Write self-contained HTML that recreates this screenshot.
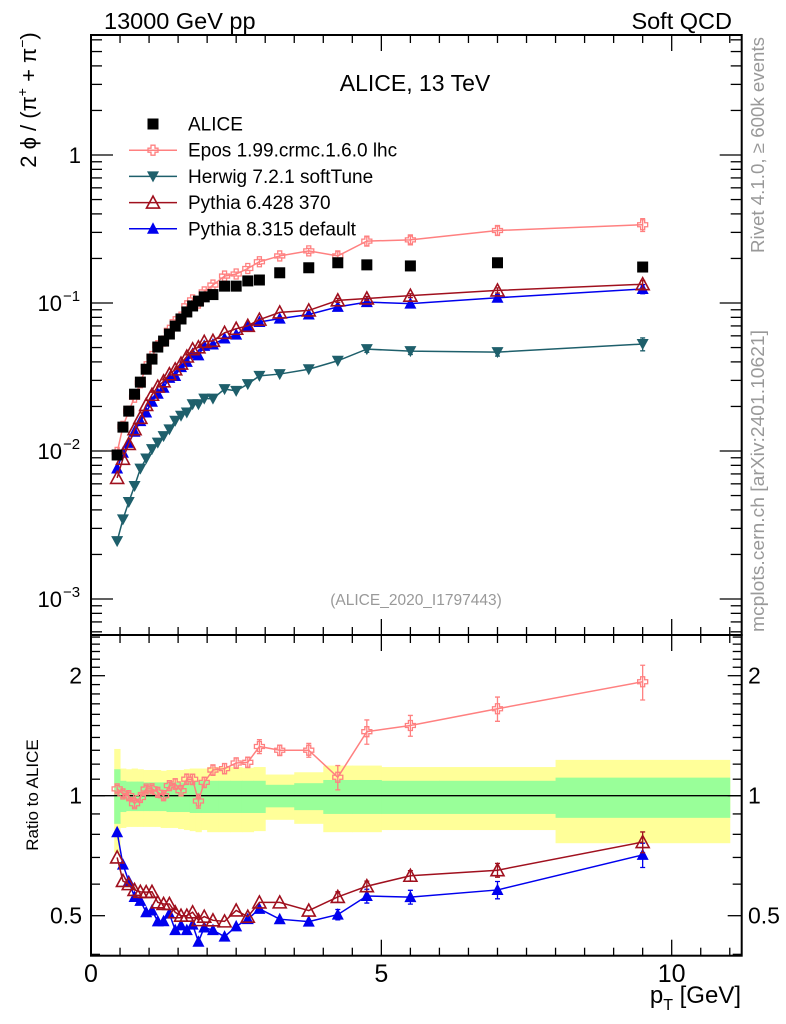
<!DOCTYPE html>
<html><head><meta charset="utf-8"><style>
html,body{margin:0;padding:0;background:#fff;overflow:hidden;width:786px;height:1024px}
svg{display:block;font-family:"Liberation Sans",Arial,sans-serif;overflow:hidden}
</style></head><body>
<svg id="c" width="786" height="1024" viewBox="0 0 786 1024" xmlns="http://www.w3.org/2000/svg">
<defs>
<clipPath id="cm"><rect x="91" y="35" width="651" height="600"/></clipPath>
<clipPath id="cr"><rect x="91" y="635" width="651" height="321"/></clipPath>
</defs>
<g id="bands" clip-path="url(#cr)"></g>
<line x1="91" y1="795.7" x2="741.7" y2="795.7" stroke="#000" stroke-width="1.3"/>
<g id="mainSeries" clip-path="url(#cm)"></g>
<g id="ratioSeries" clip-path="url(#cr)"></g>
<g id="axes"></g>
<rect x="91" y="35" width="650.7" height="600" fill="none" stroke="#000" stroke-width="2"/>
<rect x="91" y="635" width="650.7" height="320.7" fill="none" stroke="#000" stroke-width="2"/>
<text x="104" y="29" font-size="23.5">13000 GeV pp</text>
<text x="732" y="29" font-size="23.5" text-anchor="end">Soft QCD</text>
<text x="415" y="91" font-size="23" text-anchor="middle">ALICE, 13 TeV</text>
<text x="416" y="605" font-size="15.5" fill="#999" text-anchor="middle">(ALICE_2020_I1797443)</text>
<text transform="translate(764,253) rotate(-90)" font-size="18" fill="#999" textLength="216" lengthAdjust="spacingAndGlyphs">Rivet 4.1.0, ≥ 600k events</text>
<text transform="translate(764,632) rotate(-90)" font-size="18" fill="#999" textLength="302" lengthAdjust="spacingAndGlyphs">mcplots.cern.ch [arXiv:2401.10621]</text>
<text transform="translate(36,100) rotate(-90)" font-size="22" text-anchor="middle">2 ϕ / (π<tspan dy="-9" font-size="14">+</tspan><tspan dy="9"> + π</tspan><tspan dy="-9" font-size="14">−</tspan><tspan dy="9">)</tspan></text>
<text transform="translate(38,795) rotate(-90)" font-size="17" text-anchor="middle">Ratio to ALICE</text>
<text x="741" y="1003" font-size="24" text-anchor="end">p<tspan dy="7" font-size="16">T</tspan><tspan dy="-7"> [GeV]</tspan></text>
<g id="legend"></g>
</svg>
<script>
// ---- data ----
const ptValues = [0.45,0.55,0.65,0.75,0.85,0.95,1.05,1.15,1.25,1.35,1.45,1.55,1.65,1.75,1.85,1.95,2.1,2.3,2.5,2.7,2.9,3.25,3.75,4.25,4.75,5.5,7,9.5];
const binLow = [0.4,0.5,0.6,0.7,0.8,0.9,1.0,1.1,1.2,1.3,1.4,1.5,1.6,1.7,1.8,1.9,2.0,2.2,2.4,2.6,2.8,3.0,3.5,4.0,4.5,5.0,6.0,8.0];
const binHigh = [0.5,0.6,0.7,0.8,0.9,1.0,1.1,1.2,1.3,1.4,1.5,1.6,1.7,1.8,1.9,2.0,2.2,2.4,2.6,2.8,3.0,3.5,4.0,4.5,5.0,6.0,8.0,11.0];
const aliceValues = [0.0094,0.0145,0.0186,0.0242,0.0292,0.0357,0.0418,0.0504,0.0553,0.0617,0.0698,0.078,0.087,0.0955,0.103,0.11,0.114,0.130,0.130,0.141,0.143,0.160,0.173,0.187,0.181,0.178,0.187,0.175];
const eposValues = [0.00978,0.01465,0.0186,0.0231,0.0289,0.0371,0.0435,0.0514,0.0553,0.0654,0.0747,0.0803,0.0957,0.105,0.0999,0.1188,0.1322,0.152,0.157,0.171,0.190,0.208,0.225,0.208,0.262,0.267,0.309,0.338];
const herwigValues = [0.00246,0.00345,0.00452,0.0058,0.0076,0.0089,0.0103,0.0114,0.0126,0.0140,0.0160,0.0173,0.0182,0.0207,0.0207,0.0226,0.0226,0.0262,0.0255,0.0283,0.0322,0.0331,0.0357,0.0407,0.0488,0.0473,0.0466,0.0528];
const pythia6Values = [0.00658,0.00886,0.01116,0.01404,0.01676,0.02046,0.02399,0.02722,0.02959,0.03301,0.0356,0.039,0.0435,0.0487,0.0502,0.0547,0.0555,0.0629,0.067,0.0701,0.0772,0.0864,0.0891,0.1042,0.1073,0.1121,0.1216,0.1339];
const pythia8Values = [0.00761,0.00974,0.01135,0.01348,0.01591,0.01821,0.02153,0.02439,0.02677,0.03122,0.03211,0.03689,0.04002,0.04536,0.04429,0.05137,0.05244,0.05759,0.0611,0.0691,0.0744,0.0784,0.0836,0.0941,0.1014,0.0991,0.1085,0.1243];
const eposRelErr = [0.02,0.02,0.02,0.02,0.02,0.02,0.02,0.02,0.02,0.02,0.03,0.03,0.03,0.03,0.04,0.03,0.03,0.03,0.03,0.03,0.04,0.03,0.04,0.07,0.07,0.06,0.07,0.1];
const herwigRelErr = [0,0,0,0,0,0,0,0,0,0,0,0,0,0,0,0,0,0,0,0,0,0,0,0,0.05,0.05,0.06,0.1];
const pythia6RelErr = [0,0,0,0,0,0,0,0,0,0,0,0,0,0,0,0,0,0,0,0,0,0,0,0.03,0.03,0.03,0.04,0.06];
const pythia8RelErr = [0,0,0,0,0,0,0,0,0,0,0,0,0,0,0,0,0,0,0,0,0,0,0,0.03,0.04,0.04,0.05,0.07];
const yellowUp = [1.31,1.17,1.165,1.17,1.165,1.16,1.16,1.16,1.155,1.16,1.16,1.16,1.165,1.17,1.17,1.17,1.18,1.18,1.18,1.175,1.18,1.13,1.145,1.19,1.19,1.18,1.18,1.23];
const yellowDown = [0.72,0.83,0.835,0.835,0.835,0.835,0.835,0.835,0.83,0.83,0.83,0.825,0.82,0.815,0.81,0.82,0.81,0.81,0.81,0.81,0.815,0.87,0.85,0.81,0.81,0.82,0.82,0.76];
const greenUp = [1.165,1.09,1.085,1.085,1.085,1.08,1.08,1.08,1.08,1.08,1.08,1.08,1.085,1.085,1.09,1.09,1.09,1.09,1.09,1.09,1.09,1.065,1.075,1.095,1.095,1.09,1.09,1.11];
const greenDown = [0.85,0.91,0.915,0.915,0.915,0.915,0.915,0.915,0.915,0.91,0.91,0.91,0.91,0.905,0.905,0.905,0.905,0.905,0.905,0.905,0.905,0.935,0.92,0.9,0.9,0.9,0.9,0.88];
const xTickLabels = ["0","5","10"];
const xTickValues = [0,5,10];
const ratioTickLabels = ["0.5","1","2"];
const ratioTickValues = [0.5,1,2];

// ---- scales ----
const X = v => 91 + v*58.07;
const YM = v => 155 - Math.log10(v)*148;
const YR = r => 795.7 - Math.log2(r)*120;
const NS = "http://www.w3.org/2000/svg";
function mk(tag, attrs, parent){const e=document.createElementNS(NS,tag);for(const k in attrs)e.setAttribute(k,attrs[k]);parent.appendChild(e);return e;}

// ---- bands ----
const bands = document.getElementById('bands');
ptValues.forEach((p,i)=>{
  const y = mk('rect',{x:X(binLow[i]),y:YR(yellowUp[i]),width:X(binHigh[i])-X(binLow[i])+0.5,height:YR(yellowDown[i])-YR(yellowUp[i]),fill:'#ffff99'},bands);
  
  
});
ptValues.forEach((p,i)=>{
  const g = mk('rect',{x:X(binLow[i]),y:YR(greenUp[i]),width:X(binHigh[i])-X(binLow[i])+0.5,height:YR(greenDown[i])-YR(greenUp[i]),fill:'#99ff99'},bands);
  
  
});

// ---- markers ----
function marker(type,cx,cy,color,parent){
  let e;
  if(type==='square'){e=mk('rect',{x:cx-5.5,y:cy-5.5,width:11,height:11,fill:color},parent);}
  else if(type==='cross'){const a=2,b=5;e=mk('path',{d:`M${cx-a},${cy-b}h${2*a}v${b-a}h${b-a}v${2*a}h${-(b-a)}v${b-a}h${-2*a}v${-(b-a)}h${-(b-a)}v${-2*a}h${b-a}z`,fill:'none',stroke:color,'stroke-width':1.3},parent);}
  else if(type==='down'){e=mk('path',{d:`M${cx-6},${cy-5}L${cx+6},${cy-5}L${cx},${cy+6}z`,fill:color},parent);}
  else if(type==='openup'){e=mk('path',{d:`M${cx-6.5},${cy+5.5}L${cx+6.5},${cy+5.5}L${cx},${cy-6.5}z`,fill:'none',stroke:color,'stroke-width':1.6},parent);}
  else {e=mk('path',{d:`M${cx-6},${cy+5}L${cx+6},${cy+5}L${cx},${cy-6.5}z`,fill:color},parent);}
  return e;
}

const series = [
  {name:'pythia8',vals:pythia8Values,err:pythia8RelErr,color:'#0000ee',type:'up'},
  {name:'pythia6',vals:pythia6Values,err:pythia6RelErr,color:'#a0101e',type:'openup'},
  {name:'herwig',vals:herwigValues,err:herwigRelErr,color:'#1e5f6b',type:'down'},
  {name:'epos',vals:eposValues,err:eposRelErr,color:'#ff8080',type:'cross'}
];
const mainG = document.getElementById('mainSeries');
const ratioG = document.getElementById('ratioSeries');
series.forEach(s=>{
  const pm = ptValues.map((p,i)=>X(p)+','+YM(s.vals[i])).join(' ');
  const lm = mk('polyline',{points:pm,fill:'none',stroke:s.color,'stroke-width':1.5},mainG);
  
  
  const pr = ptValues.map((p,i)=>X(p)+','+YR(s.vals[i]/aliceValues[i])).join(' ');
  const lr = mk('polyline',{points:pr,fill:'none',stroke:s.color,'stroke-width':1.5},ratioG);
  
  
  ptValues.forEach((p,i)=>{
    const v=s.vals[i], r=v/aliceValues[i], e=s.err[i];
    if(e>0){
      const eb=mk('path',{d:`M${X(p)},${YM(v*(1+e))}V${YM(v*(1-e))}M${X(p)-2.5},${YM(v*(1+e))}h5M${X(p)-2.5},${YM(v*(1-e))}h5`,stroke:s.color,'stroke-width':1.3,fill:'none'},mainG);
      
      
      const er=mk('path',{d:`M${X(p)},${YR(r*(1+e))}V${YR(r*(1-e))}M${X(p)-2.5},${YR(r*(1+e))}h5M${X(p)-2.5},${YR(r*(1-e))}h5`,stroke:s.color,'stroke-width':1.3,fill:'none'},ratioG);
      
      
    }
    const m1=marker(s.type,X(p),YM(v),s.color,mainG);
    
    
    const m2=marker(s.type,X(p),YR(r),s.color,ratioG);
    
    
  });
});
ptValues.forEach((p,i)=>{
  const m=marker('square',X(p),YM(aliceValues[i]),'#000',mainG);
  
  
});

// ---- axes ----
const ax = document.getElementById('axes');
function tick(x1,y1,x2,y2){const t=mk('line',{x1,y1,x2,y2,stroke:'#000','stroke-width':1.3},ax);}
for(let v=0;v<=11;v+=0.5){
  const major = (v%5===0);
  const L = major?16:8, x=X(v);
  tick(x,35,x,35+L); tick(x,635,x,635-L); tick(x,635,x,635+L); tick(x,955.7,x,955.7-L);
}
xTickValues.forEach((v,i)=>{
  const t=mk('text',{x:X(v),y:982,'font-size':25,'text-anchor':'middle'},ax);
  t.textContent=xTickLabels[i];
  
  
});
for(let d=-4;d<=0;d++){
  for(let k=1;k<=9;k++){
    const v=k*Math.pow(10,d), y=YM(v);
    if(y<35||y>635) continue;
    const L = k===1?22:11;
    tick(91,y,91+L,y); tick(741.7,y,741.7-L,y);
  }
}
const decLabels=[[1,'1',''],[0.1,'10','−1'],[0.01,'10','−2'],[0.001,'10','−3']];
decLabels.forEach(d=>{
  const t=mk('text',{x:d[2]?62:81,y:YM(d[0])+8,'font-size':22,'text-anchor':'end'},ax);
  t.textContent=d[1];
  
  
  if(d[2]){const s=mk('text',{x:63,y:YM(d[0])-2,'font-size':15},ax);s.textContent=d[2];
  
  }
});
[0.4,0.5,0.6,0.7,0.8,0.9,1,1.1,1.2,1.3,1.4,1.5,1.6,1.7,1.8,1.9,2,2.1,2.2,2.3,2.4,2.5].forEach(r=>{
  const y=YR(r); if(y<636||y>955) return;
  const major=(r===0.5||r===1||r===2); const L=major?14:9;
  tick(91,y,91+L,y); tick(741.7,y,741.7-L,y);
});
ratioTickValues.forEach((v,i)=>{
  const t=mk('text',{x:82,y:YR(v)+8,'font-size':23,'text-anchor':'end'},ax);
  t.textContent=ratioTickLabels[i];
  
  
  const t2=mk('text',{x:748,y:YR(v)+8,'font-size':23},ax);
  t2.textContent=ratioTickLabels[i];
  
  
});

// ---- legend ----
const lg=document.getElementById('legend');
const legendItems=[['ALICE','square','#000',false],['Epos 1.99.crmc.1.6.0 lhc','cross','#ff8080',true],['Herwig 7.2.1 softTune','down','#1e5f6b',true],['Pythia 6.428 370','openup','#a0101e',true],['Pythia 8.315 default','up','#0000ee',true]];
legendItems.forEach((it,i)=>{
  const y=124+i*26.2;
  const g=mk('g',{},lg);
  
  
  if(it[3]) mk('line',{x1:129,y1:y,x2:177,y2:y,stroke:it[2],'stroke-width':1.5},g);
  marker(it[1],153,y,it[2],g);
  const t=mk('text',{x:188,y:y+6.5,'font-size':19},g);
  t.textContent=it[0];
});
</script>
</body></html>
